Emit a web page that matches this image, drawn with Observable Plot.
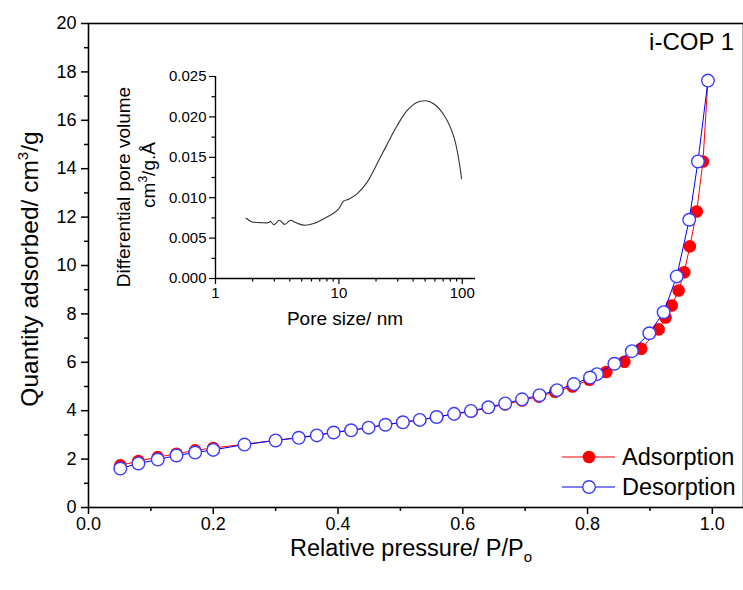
<!DOCTYPE html>
<html><head><meta charset="utf-8">
<script src="https://cdn.jsdelivr.net/npm/d3@7"></script>
<script src="https://cdn.jsdelivr.net/npm/@observablehq/plot@0.6"></script>
<style>
body{margin:0;background:#fff;}
#wrap{position:relative;width:743px;height:590px;overflow:hidden;background:#fff;font-family:"Liberation Sans",Arial,sans-serif;}
#wrap svg{position:absolute;overflow:visible;}
</style></head><body><div id="wrap"></div>
<script>
// Main isotherm data
const adsP = [0.051,0.080,0.111,0.141,0.171,0.200,0.250,0.300,0.337,0.366,0.393,0.421,0.449,0.476,0.503,0.531,0.559,0.587,0.614,0.641,0.668,0.695,0.722,0.748,0.776,0.803,0.830,0.859,0.886,0.914,0.925,0.935,0.946,0.955,0.964,0.975,0.985,0.993];
const adsQ = [1.74,1.92,2.08,2.22,2.36,2.46,2.61,2.78,2.89,2.99,3.11,3.19,3.30,3.42,3.52,3.62,3.74,3.86,3.97,4.12,4.26,4.42,4.58,4.78,5.00,5.28,5.60,6.02,6.56,7.36,7.85,8.35,8.97,9.72,10.79,12.23,14.30,17.64];
const desP = [0.993,0.977,0.963,0.943,0.922,0.899,0.871,0.843,0.815,0.804,0.778,0.751,0.723,0.695,0.668,0.641,0.613,0.586,0.558,0.531,0.504,0.476,0.449,0.421,0.393,0.366,0.337,0.300,0.250,0.200,0.171,0.141,0.111,0.080,0.051];
const desQ = [17.64,14.30,11.89,9.55,8.07,7.20,6.46,5.94,5.51,5.37,5.10,4.85,4.64,4.47,4.30,4.14,3.99,3.87,3.74,3.62,3.52,3.42,3.30,3.19,3.10,2.98,2.88,2.77,2.60,2.38,2.27,2.15,1.98,1.82,1.61];
// Inset pore size distribution
const poreSize = [1.77,1.98,2.32,2.71,2.79,2.97,3.30,3.63,4.06,4.46,5.2,6.26,7.55,9.1,10.0,10.97,12.0,14.1,16.9,20.4,24.6,29.6,35.8,43.2,50.5,59.0,71.2,85.6,98.8];
const poreVol = [0.00745,0.0070,0.00692,0.00692,0.00708,0.00667,0.0072,0.0067,0.0072,0.00692,0.0066,0.0068,0.0074,0.0081,0.00865,0.0096,0.0098,0.0105,0.0119,0.0142,0.0166,0.0189,0.0208,0.0218,0.0220,0.0216,0.0202,0.0175,0.01235];
// Ticks
const xMajor = [0,0.2,0.4,0.6,0.8,1.0];
const xMinor = [0.1,0.3,0.5,0.7,0.9];
const yMajor = [0,2,4,6,8,10,12,14,16,18,20];
const yMinor = [1,3,5,7,9,11,13,15,17,19];
const inXMajor = [1,10,100];
const inXMinor = [2,3,4,5,6,7,8,9,20,30,40,50,60,70,80,90];
const inYMajor = [0,0.005,0.010,0.015,0.020,0.025];
const inYMinor = [0.0025,0.0075,0.0125,0.0175,0.0225];
const seriesNames = ["Adsorption","Desorption"];
const seriesColors = ["#ff0000","#0000ff"];

const ads = adsP.map((p,i)=>({p, q: adsQ[i]}));
const des = desP.map((p,i)=>({p, q: desQ[i]}));
const pore = poreSize.map((s,i)=>({s, v: poreVol[i]}));
const FONT = "Liberation Sans, Arial, sans-serif";
const wrap = document.getElementById("wrap");

const main = Plot.plot({
  width:743, height:590, marginLeft:88, marginRight:0, marginTop:23, marginBottom:83,
  x:{domain:[0,1.05]}, y:{domain:[0,20]},
  style:{fontFamily:FONT, fontSize:"18px", background:"transparent", color:"#000"},
  marks:[
    Plot.axisX({ticks:xMajor, tickSize:7, tickPadding:3, tickFormat:d=>d.toFixed(1), label:null, strokeWidth:1.5, fontSize:18}),
    Plot.axisX({ticks:xMinor, tickSize:4, tickFormat:()=>"", label:null, strokeWidth:1.5}),
    Plot.axisY({ticks:yMajor, tickSize:7, tickPadding:5, tickFormat:d=>String(d), label:null, strokeWidth:1.5, fontSize:18}),
    Plot.axisY({ticks:yMinor, tickSize:4, tickFormat:()=>"", label:null, strokeWidth:1.5}),
    Plot.frame({stroke:"#000", strokeWidth:1.6}),
    Plot.line(ads,{x:"p", y:"q", stroke:seriesColors[0], strokeWidth:1}),
    Plot.dot(ads,{x:"p", y:"q", r:6.3, fill:seriesColors[0], stroke:"none"}),
    Plot.line(des,{x:"p", y:"q", stroke:seriesColors[1], strokeWidth:1}),
    Plot.dot(des,{x:"p", y:"q", r:6.3, fill:"#fff", stroke:"#3b3bff", strokeWidth:1.4})
  ]
});
main.style.left="0px"; main.style.top="0px";
wrap.appendChild(main);

const inset = Plot.plot({
  width:380, height:280, marginLeft:115, marginRight:5, marginTop:16, marginBottom:62,
  x:{type:"log", domain:[1,128]}, y:{domain:[0,0.025]},
  style:{fontFamily:FONT, fontSize:"15px", background:"transparent", color:"#000"},
  marks:[
    Plot.axisX({ticks:inXMajor, tickSize:6, tickPadding:3, tickFormat:d=>String(d), label:null, strokeWidth:1.2, fontSize:15}),
    Plot.axisX({ticks:inXMinor, tickSize:3.5, tickFormat:()=>"", label:null, strokeWidth:1.2}),
    Plot.axisY({ticks:inYMajor, tickSize:6, tickPadding:3, tickFormat:d=>d.toFixed(3), label:null, strokeWidth:1.2, fontSize:15}),
    Plot.axisY({ticks:inYMinor, tickSize:3.5, tickFormat:()=>"", label:null, strokeWidth:1.2}),
    Plot.ruleX([1],{stroke:"#000", strokeWidth:1.4}),
    Plot.ruleY([0],{stroke:"#000", strokeWidth:1.4}),
    Plot.line(pore,{x:"s", y:"v", stroke:"#333", strokeWidth:1.1, curve:"catmull-rom"})
  ]
});
inset.style.left="100px"; inset.style.top="60px";
wrap.appendChild(inset);

// Overlay with titles and legend
const ov = d3.select(wrap).append("svg").attr("width",743).attr("height",590)
  .style("left","0px").style("top","0px").style("font-family",FONT);

// x title
const xt = ov.append("text").attr("x",411).attr("y",556).attr("text-anchor","middle").attr("font-size",23.5).attr("fill","#000");
xt.append("tspan").text("Relative pressure/ P/P");
xt.append("tspan").attr("font-size",15).attr("dy",6).text("o");
// y title
const yt = ov.append("text").attr("transform","translate(38,269) rotate(-90)").attr("text-anchor","middle").attr("font-size",24.5).attr("fill","#000");
yt.append("tspan").text("Quantity adsorbed/ cm");
yt.append("tspan").attr("font-size",15).attr("dy",-10).text("3");
yt.append("tspan").attr("dy",10).text("/g");
// sample label
ov.append("text").attr("x",734).attr("y",50).attr("text-anchor","end").attr("font-size",24).attr("fill","#000").text("i-COP 1");

// inset titles
ov.append("text").attr("x",345).attr("y",325).attr("text-anchor","middle").attr("font-size",19).attr("fill","#000").text("Pore size/ nm");
ov.append("text").attr("transform","translate(130,187) rotate(-90)").attr("text-anchor","middle").attr("font-size",19).attr("fill","#000").text("Differential pore volume");
const it2 = ov.append("text").attr("transform","translate(155,175) rotate(-90)").attr("text-anchor","middle").attr("font-size",19).attr("fill","#000");
it2.append("tspan").text("cm");
it2.append("tspan").attr("font-size",12).attr("dy",-8).text("3");
it2.append("tspan").attr("dy",8).text("/g.Å");

// legend
seriesNames.forEach((name,i)=>{
  const y = 457 + i*30;
  const g = ov.append("g");
  g.append("line").attr("x1",562).attr("x2",615).attr("y1",y).attr("y2",y).attr("stroke",seriesColors[i]).attr("stroke-width",1);
  if(i===0) g.append("circle").attr("cx",589).attr("cy",y).attr("r",6.3).attr("fill",seriesColors[0]);
  else g.append("circle").attr("cx",589).attr("cy",y).attr("r",6.3).attr("fill","#fff").attr("stroke","#3b3bff").attr("stroke-width",1.4);
  g.append("text").attr("x",622).attr("y",y).attr("dy","0.36em").attr("font-size",23.5).attr("fill","#000").text(name);
});
</script>
</body></html>
